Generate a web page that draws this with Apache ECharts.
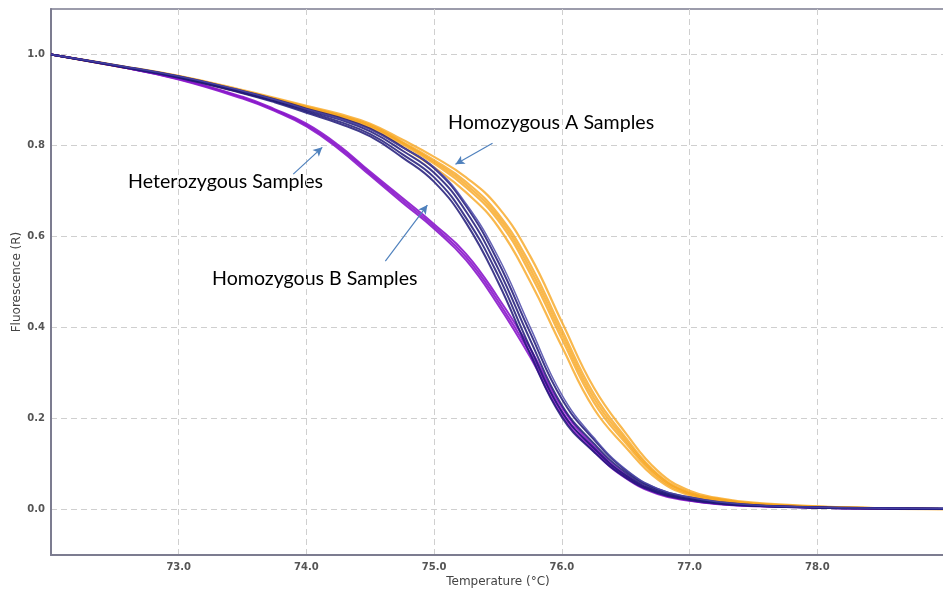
<!DOCTYPE html>
<html>
<head>
<meta charset="utf-8">
<script src="https://cdn.jsdelivr.net/npm/echarts@6/dist/echarts.min.js"></script>
<style>
  html, body { margin: 0; padding: 0; background: #fff; }
  #chart { width: 943px; height: 592px; }
</style>
</head>
<body>
<div id="chart"></div>
<script>
// melt curve temperatures (°C)
var temps = [72.0, 72.5, 73.0, 73.5, 73.75, 74.0, 74.25, 74.5, 74.75, 75.0, 75.25, 75.5,
  75.75, 76.0, 76.25, 76.5, 76.75, 77.0, 77.25, 77.5, 78.0, 78.5, 79.0];

// Homozygous A replicates (orange)
var homA = [
  [1.0, 0.977, 0.953, 0.922, 0.905, 0.887, 0.870, 0.848, 0.813, 0.775, 0.730, 0.665, 0.558, 0.412, 0.268, 0.168, 0.085, 0.041, 0.024, 0.015, 0.007, 0.003, 0.001],
  [1.0, 0.976, 0.952, 0.920, 0.903, 0.885, 0.867, 0.845, 0.808, 0.768, 0.720, 0.650, 0.540, 0.395, 0.254, 0.158, 0.078, 0.037, 0.022, 0.013, 0.006, 0.003, 0.001],
  [1.0, 0.976, 0.951, 0.919, 0.902, 0.884, 0.866, 0.843, 0.806, 0.764, 0.714, 0.643, 0.530, 0.385, 0.245, 0.152, 0.075, 0.036, 0.021, 0.013, 0.006, 0.003, 0.001],
  [1.0, 0.975, 0.950, 0.918, 0.901, 0.883, 0.865, 0.841, 0.803, 0.760, 0.708, 0.636, 0.520, 0.375, 0.236, 0.146, 0.071, 0.034, 0.020, 0.012, 0.006, 0.003, 0.001],
  [1.0, 0.975, 0.949, 0.916, 0.899, 0.880, 0.862, 0.837, 0.797, 0.752, 0.697, 0.622, 0.502, 0.358, 0.222, 0.137, 0.066, 0.031, 0.018, 0.011, 0.005, 0.002, 0.001]
];

// Homozygous B replicates (navy)
var homB = [
  [1.0, 0.977, 0.952, 0.920, 0.902, 0.881, 0.862, 0.837, 0.797, 0.750, 0.667, 0.545, 0.390, 0.243, 0.154, 0.086, 0.045, 0.027, 0.016, 0.010, 0.005, 0.003, 0.002],
  [1.0, 0.976, 0.951, 0.918, 0.899, 0.878, 0.858, 0.831, 0.789, 0.740, 0.655, 0.530, 0.374, 0.229, 0.145, 0.081, 0.042, 0.025, 0.014, 0.009, 0.005, 0.003, 0.002],
  [1.0, 0.976, 0.950, 0.916, 0.897, 0.875, 0.853, 0.825, 0.781, 0.730, 0.641, 0.515, 0.357, 0.215, 0.135, 0.075, 0.039, 0.023, 0.013, 0.008, 0.004, 0.002, 0.001],
  [1.0, 0.975, 0.949, 0.915, 0.895, 0.872, 0.849, 0.820, 0.774, 0.720, 0.630, 0.500, 0.343, 0.203, 0.127, 0.070, 0.036, 0.021, 0.012, 0.008, 0.004, 0.002, 0.001],
  [1.0, 0.977, 0.952, 0.920, 0.901, 0.880, 0.860, 0.835, 0.796, 0.752, 0.672, 0.556, 0.402, 0.252, 0.158, 0.088, 0.046, 0.027, 0.016, 0.010, 0.005, 0.003, 0.002]
];

// Heterozygous replicates (purple)
var het = [
  [1.0, 0.975, 0.947, 0.907, 0.880, 0.848, 0.801, 0.742, 0.685, 0.627, 0.562, 0.466, 0.355, 0.224, 0.139, 0.076, 0.038, 0.021, 0.012, 0.008, 0.004, 0.002, 0.001],
  [1.0, 0.975, 0.946, 0.905, 0.878, 0.845, 0.797, 0.738, 0.680, 0.622, 0.555, 0.458, 0.345, 0.215, 0.133, 0.072, 0.036, 0.020, 0.012, 0.008, 0.004, 0.002, 0.001],
  [1.0, 0.975, 0.945, 0.903, 0.876, 0.842, 0.793, 0.734, 0.675, 0.617, 0.548, 0.450, 0.336, 0.207, 0.128, 0.069, 0.034, 0.019, 0.011, 0.007, 0.004, 0.002, 0.001]
];

var xTicks = [73, 74, 75, 76, 77, 78];
var yTicks = [0, 0.2, 0.4, 0.6, 0.8, 1.0];

// annotation arrows: [startT, startF, endT, endF]
var arrowA = [75.457, 0.805, 75.167, 0.759];
var arrowHet = [73.897, 0.737, 74.124, 0.796];
var arrowB = [74.618, 0.546, 74.947, 0.669];

var chart = echarts.init(document.getElementById('chart'));

function curve(vals, color, width, opacity) {
  return {
    type: 'line',
    data: temps.map(function (t, i) { return [t, vals[i]]; }),
    showSymbol: false,
    smooth: 0.45,
    silent: true,
    lineStyle: { color: color, width: width, opacity: opacity }
  };
}

function arrow(a) {
  return [
    { coord: [a[0], a[1]], symbol: 'none' },
    { coord: [a[2], a[3]], symbol: 'arrow', symbolSize: [7, 9] }
  ];
}

var series = [];
homA.forEach(function (v) { series.push(curve(v, '#F8A620', 2.2, 0.8)); });
het.forEach(function (v) { series.push(curve(v, '#8A17CB', 2, 0.9)); });
homB.forEach(function (v, i) {
  series.push(curve(v, i === 4 ? '#4A46A8' : '#1F1878', i === 4 ? 1.5 : 2, 0.85));
});
series.push({
  type: 'line',
  data: [],
  silent: true,
  markLine: {
    silent: true,
    symbol: ['none', 'arrow'],
    label: { show: false },
    lineStyle: { color: '#4F81BD', width: 1.2, type: 'solid' },
    data: [arrow(arrowA), arrow(arrowHet), arrow(arrowB)]
  }
});

var labelFont = { color: '#111', fontFamily: 'Lato', fontSize: 19.6 };

var option = {
  animation: false,
  grid: {
    left: 51, right: -2, top: 9, bottom: 37,
    outerBoundsMode: 'none',
    containLabel: false,
    show: true, borderColor: '#7c7c90', borderWidth: 1.5
  },
  xAxis: {
    type: 'value',
    min: 72, max: 79, interval: 1,
    name: 'Temperature (°C)',
    nameLocation: 'middle',
    nameGap: 21,
    nameMoveOverlap: false,
    nameTextStyle: { color: '#444', fontFamily: 'DejaVu Sans', fontSize: 12 },
    axisLine: { onZero: false, lineStyle: { color: '#7c7c90', width: 2 } },
    axisTick: { show: false },
    axisLabel: {
      showMinLabel: false, showMaxLabel: false, margin: 7,
      color: '#555', fontFamily: 'DejaVu Sans', fontSize: 10, fontWeight: 'bold',
      formatter: function (v) { return xTicks.indexOf(v) >= 0 ? v.toFixed(1) : ''; }
    },
    splitLine: { lineStyle: { color: '#cfcfcf', type: [6, 4], width: 1 } }
  },
  yAxis: {
    type: 'value',
    min: -0.1, max: 1.1,
    name: 'Fluorescence (R)',
    nameLocation: 'middle',
    nameGap: 28,
    nameMoveOverlap: false,
    nameTextStyle: { color: '#444', fontFamily: 'DejaVu Sans', fontSize: 12 },
    axisLine: { show: true, onZero: false, lineStyle: { color: '#7c7c90', width: 2 } },
    axisTick: { show: false, customValues: yTicks },
    axisLabel: {
      customValues: yTicks, margin: 6,
      color: '#555', fontFamily: 'DejaVu Sans', fontSize: 10, fontWeight: 'bold',
      formatter: function (v) { return v.toFixed(1); }
    },
    splitLine: { lineStyle: { color: '#cfcfcf', type: [6, 4], width: 1 } }
  },
  graphic: [
    { type: 'text', left: 448, top: 113, silent: true, style: Object.assign({ text: 'Homozygous A Samples' }, labelFont) },
    { type: 'text', left: 128, top: 172, silent: true, style: Object.assign({ text: 'Heterozygous Samples' }, labelFont) },
    { type: 'text', left: 212, top: 269, silent: true, style: Object.assign({ text: 'Homozygous B Samples' }, labelFont) }
  ],
  series: series
};

chart.setOption(option);
</script>
</body>
</html>
